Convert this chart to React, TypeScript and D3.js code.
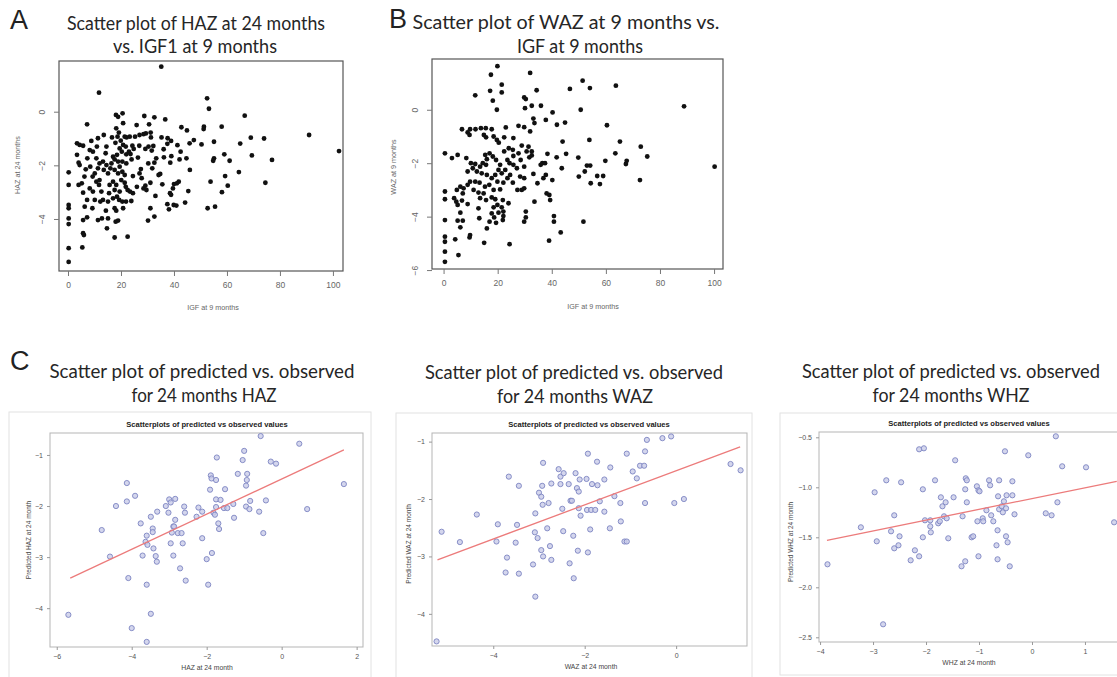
import React, { useEffect, useRef } from "react";
import * as d3 from "d3";

type Pt = [number, number];

// Panel A: IGF at 9 months (x) vs HAZ at 24 months (y)
const hazVsIgf: Pt[] = [
  [35.2, 1.68], [11.7, 0.71], [52.5, 0.5], [53.2, 0.11], [66.7, -0.15], [91, -0.87], [102.3, -1.47],
  [77, -1.8], [74.5, -2.65], [74, -1.0], [69, -0.97], [69.4, -1.63], [65, -1.19], [64.5, -2.25],
  [61, -1.83], [60.3, -2.76], [59.3, -2.4], [59, -1.59], [58.1, -3.0], [58, -0.56], [55.1, -1.12],
  [55.1, -1.74], [54.8, -1.83], [53.8, -2.61], [55.5, -3.54], [52.7, -3.6], [51.3, -0.56], [51.2, -0.65],
  [50.4, -1.22], [47.5, -1.06], [45.4, -2.96], [46, -2.17], [45.9, -1.18], [44.9, -0.7], [42.8, -0.58],
  [44.7, -1.74], [44.2, -3.39], [42.5, -1.49], [42.1, -1.78], [41.3, -1.25], [41.8, -2.61], [41.1, -2.67],
  [40, -2.7], [39.6, -2.86], [39.9, -3.48], [40.9, -3.5], [38.1, -3.64], [37.5, -3.45], [38.9, -3.1],
  [38.5, -3.04], [38.6, -1.9], [39, -1.66], [37.6, -0.99], [37.5, -1.2], [38.9, -1.09], [36.7, -0.29],
  [35.3, -0.96], [36.1, -1.4], [36.2, -1.7], [35.6, -2.71], [34.8, -2.32], [34.2, -2.36], [32.6, -0.21],
  [31.3, -0.96], [31.2, -0.78], [30.6, -0.47], [28.8, -0.16], [29.4, -0.81], [28.5, -0.84], [27, -0.87],
  [26.9, -1.27], [29.2, -1.39], [30.4, -1.3], [31.6, -1.45], [32.2, -1.28], [33.3, -1.74], [32.6, -1.9],
  [30.3, -1.93], [31.8, -2.11], [31.1, -2.65], [29.2, -2.76], [28.5, -2.86], [29.6, -2.92], [31.1, -3.6],
  [32.6, -3.91], [30.2, -4.06], [33, -3.14], [27.8, -2.48], [27.5, -2.14], [26.4, -1.71], [25.9, -0.5],
  [25.3, -0.93], [24.8, -1.39], [24.3, -1.27], [23.6, -1.58], [24, -1.78], [23, -1.49], [23.4, -2.98],
  [23.9, -3.33], [24.5, -2.4], [22.5, -2.92], [22.5, -4.66], [21.9, -3.35], [21.4, -2.65], [20.6, -0.06],
  [18.1, -0.12], [18.9, -0.19], [20.8, -0.43], [18.2, -0.62], [19.2, -0.78], [18.7, -0.93], [21.4, -0.93],
  [22.1, -0.96], [23.3, -0.93], [19.9, -1.08], [17.9, -1.16], [20.8, -1.24], [21.8, -1.3], [19.5, -1.37],
  [20.3, -1.49], [22, -1.59], [18.5, -1.61], [17, -1.68], [17.6, -1.78], [16.4, -1.93], [18.9, -1.86],
  [20.5, -1.86], [22, -1.93], [19.5, -2.05], [17.6, -2.17], [16, -2.11], [14.5, -1.99], [13.5, -2.17],
  [15.1, -2.3], [18.9, -2.3], [20.5, -2.24], [21.4, -2.36], [20.1, -2.55], [21.8, -2.8], [18.2, -2.73],
  [17, -2.61], [15.7, -2.73], [17.6, -2.92], [19.5, -2.98], [18.5, -3.17], [17, -3.23], [19.3, -3.29],
  [20.5, -3.35], [17.6, -3.6], [18.2, -3.69], [15.1, -3.35], [14.3, -3.69], [13.2, -3.29], [12.2, -3.35],
  [15.1, -3.98], [14.7, -4.35], [18, -4.1], [18.9, -4.06], [17.6, -4.69], [12.8, -3.98], [11.3, -4.04],
  [12.6, -2.98], [11.7, -2.73], [10.7, -2.61], [10.1, -2.3], [11.3, -2.11], [11.9, -1.93], [13.2, -1.86],
  [10.7, -1.74], [9.4, -1.49], [10.9, -1.3], [11.3, -0.99], [13.5, -0.87], [14.5, -1.3], [14.2, -1.55],
  [7.2, -0.47], [8.8, -1.09], [8.2, -1.43], [7.3, -1.74], [8.4, -2.05], [9.3, -2.42], [8.2, -2.86],
  [9.4, -2.98], [10.1, -3.29], [9.2, -3.6], [7.2, -3.29], [6.3, -3.54], [5.7, -3.02], [5.2, -2.67],
  [6.2, -2.42], [6.7, -2.15], [4.4, -1.99], [4, -1.9], [3.4, -1.61], [4.4, -1.24], [3.4, -1.18],
  [5.7, -1.27], [4, -2.73], [5.7, -4.04], [7.2, -3.94], [5.7, -4.53], [6, -4.6], [5.4, -5.06],
  [0.25, -2.26], [0.25, -2.73], [0.25, -3.48], [0.25, -3.6], [0.25, -3.98], [0.25, -4.19], [0.25, -5.09],
  [0.25, -5.6], [16.6, -0.96], [11.9, -2.55], [15.5, -3.04], [24.5, -3.04], [26, -2.8], [27, -2.3],
  [20.8, -3.6],
];

// Panel B: IGF at 9 months (x) vs WAZ at 9 months (y)
const wazVsIgf: Pt[] = [
  [19.9, 1.63], [17.5, 1.31], [32, 1.38], [51.4, 1.09], [63.7, 0.9], [54.1, 0.81], [46.7, 0.78],
  [34.4, 0.73], [21.5, 0.94], [21.5, 0.65], [17.2, 0.71], [11.7, 0.54], [18.2, 0.34], [29.8, 0.46],
  [30.4, 0.4], [32.6, 0.15], [36, 0.15], [88.9, 0.13], [30.1, 0.06], [40.3, -0.1], [50.7, 0],
  [19.7, 0], [33.2, -0.33], [33.6, -0.5], [37.8, -0.38], [41.9, -0.56], [44.9, -0.48], [60.4, -0.58],
  [6.8, -0.73], [9.8, -0.73], [11.8, -0.73], [13.8, -0.69], [15.6, -0.69], [17.8, -0.73], [23, -0.66],
  [27.7, -0.6], [29.8, -0.65], [32, -0.81], [8.9, -0.85], [9.6, -0.94], [14.9, -0.94], [15.7, -1.03],
  [18.5, -1.0], [22.4, -1.03], [25.8, -1.06], [19.7, -1.13], [20.4, -1.23], [28.9, -1.34], [31.4, -1.38],
  [44, -1.19], [53.9, -1.13], [65.2, -1.19], [72.9, -1.38], [75.3, -1.75], [63.5, -1.63], [59.8, -1.91],
  [67.7, -1.91], [67.4, -2.03], [100.2, -2.13], [53, -2.09], [54.2, -2.09], [49.8, -1.79], [52.2, -2.31],
  [50, -2.5], [56.8, -2.48], [59, -2.48], [57.8, -2.78], [54.4, -2.75], [72.6, -2.63], [45.3, -1.65],
  [41.8, -1.78], [43.7, -2.19], [40.2, -2.63], [38.4, -1.65], [36.5, -2.0], [37.5, -2.0], [35.9, -2.06],
  [37.8, -2.44], [36.9, -2.56], [34.7, -2.75], [33.2, -2.4], [29.8, -2.13], [28.5, -1.88], [32.6, -1.56],
  [32.6, -1.71], [30.7, -1.56], [31.7, -1.78], [27.7, -1.63], [25.6, -1.5], [25.8, -1.73], [24.1, -1.44],
  [22.4, -1.56], [23.6, -1.88], [24.4, -2.0], [25.8, -2.06], [27.1, -2.19], [28.3, -2.5], [29.8, -2.56],
  [29.8, -2.94], [28.9, -3.0], [27.3, -3.0], [25.6, -2.73], [24.6, -2.44], [23.6, -2.56], [22.8, -2.25],
  [21.5, -2.38], [20.3, -2.25], [20.9, -2.06], [19.4, -1.88], [18.2, -1.75], [17, -1.63], [15.4, -1.69],
  [16, -1.85], [14.5, -2.0], [15.7, -2.06], [13.5, -2.13], [11.7, -2.03], [10.1, -2.0], [10.8, -2.19],
  [12.3, -2.31], [14.1, -2.38], [16, -2.44], [17.8, -2.56], [19.1, -2.44], [19.9, -2.69], [22.1, -2.73],
  [20.9, -2.98], [18.5, -3.0], [16.9, -2.81], [15.3, -2.88], [13.3, -2.73], [11.7, -2.69], [9.8, -2.69],
  [8.9, -2.81], [7.4, -2.94], [6.2, -2.88], [7.1, -3.13], [4.9, -3.0], [11.1, -3.0], [12.9, -3.1],
  [14.8, -3.13], [13.5, -3.31], [15.7, -3.38], [17.8, -3.28], [19.1, -3.35], [21.9, -3.38], [24, -3.5],
  [19.9, -3.56], [18.5, -3.65], [21.5, -3.65], [22.1, -3.81], [20.3, -3.85], [17.8, -3.88], [18.7, -4.03],
  [22.1, -3.98], [21.9, -4.13], [19.4, -4.23], [17, -4.19], [16, -4.44], [12.9, -3.69], [13.2, -4.06],
  [8.9, -3.53], [6.8, -3.4], [4.7, -3.44], [3.9, -3.31], [5.2, -3.56], [6.2, -3.85], [5.2, -4.15],
  [7.1, -4.15], [6.2, -4.4], [9.8, -4.69], [9.6, -4.78], [15, -4.98], [4.3, -4.85], [5.5, -5.44],
  [24.4, -5.03], [30.4, -3.81], [30.4, -4.03], [29.8, -4.19], [33.6, -3.44], [38.1, -3.13], [39.1, -3.19],
  [39.4, -3.38], [40.8, -3.98], [40.8, -4.19], [43.3, -4.59], [39, -4.9], [51.7, -4.19], [0.5, -1.63],
  [0.5, -3.06], [0.5, -3.35], [0.5, -4.13], [0.5, -4.75], [0.5, -4.94], [0.5, -5.31], [0.5, -5.69],
  [3.1, -1.81], [5.2, -1.69], [8.4, -1.81], [8.9, -2.31],
];

const igfTicks = [0, 20, 40, 60, 80, 100];
const hazTicksA = [-4, -2, 0];
const wazTicksB = [-6, -4, -2, 0];

// Panel C: observed (x) vs predicted (y) at 24 months
const hazObsPred: Pt[] = [
  [-5.69, -4.13], [-4.8, -2.47], [-4.58, -2.99], [-4.42, -2.0], [-4.13, -1.55], [-4.13, -1.91],
  [-3.91, -1.8], [-4.09, -3.41], [-4.0, -4.39], [-3.6, -4.66], [-3.6, -3.54], [-3.49, -4.11],
  [-3.76, -2.34], [-3.71, -2.97], [-3.63, -2.7], [-3.58, -2.76], [-3.6, -2.58], [-3.49, -2.21],
  [-3.44, -2.44], [-3.44, -2.51], [-3.42, -2.83], [-3.36, -2.98], [-3.33, -3.09], [-3.32, -2.11],
  [-3.09, -2.0], [-3.02, -2.13], [-3.0, -1.87], [-2.96, -1.93], [-2.89, -2.4], [-2.96, -2.73],
  [-2.93, -2.52], [-2.84, -1.86], [-2.84, -2.27], [-2.87, -2.4], [-2.89, -2.97], [-2.77, -2.53],
  [-2.67, -2.53], [-2.64, -2.73], [-2.71, -3.22], [-2.6, -2.01], [-2.58, -2.13], [-2.56, -3.46],
  [-2.27, -2.21], [-2.22, -2.03], [-2.12, -2.11], [-2.12, -2.63], [-2.0, -3.04], [-1.96, -3.54],
  [-1.91, -1.68], [-1.89, -1.4], [-1.87, -1.46], [-1.82, -2.13], [-1.86, -2.92], [-1.78, -2.17],
  [-1.75, -1.49], [-1.73, -1.05], [-1.75, -1.87], [-1.75, -2.02], [-1.69, -2.34], [-1.67, -2.45],
  [-1.63, -1.88], [-1.54, -2.04], [-1.51, -1.67], [-1.45, -2.04], [-1.29, -1.96], [-1.27, -2.23],
  [-1.17, -1.37], [-1.04, -1.1], [-1.0, -0.92], [-0.95, -1.6], [-0.93, -1.49], [-0.92, -1.37],
  [-0.95, -2.01], [-0.86, -2.06], [-0.84, -1.9], [-0.6, -2.11], [-0.56, -0.63], [-0.49, -2.53],
  [-0.42, -1.89], [-0.29, -1.13], [-0.15, -1.17], [0.47, -0.78], [0.68, -2.06], [1.66, -1.57],
];
const hazFit: Pt[] = [[-5.64, -3.41], [1.66, -0.9]];

const wazObsPred: Pt[] = [
  [-5.24, -4.48], [-5.13, -2.57], [-4.73, -2.75], [-4.36, -2.27], [-3.9, -2.44], [-3.93, -2.74],
  [-3.66, -1.61], [-3.7, -3.02], [-3.73, -3.28], [-3.48, -2.45], [-3.51, -2.76], [-3.44, -1.77],
  [-3.44, -3.3], [-3.13, -3.14], [-3.08, -2.25], [-3.09, -2.58], [-3.03, -2.68], [-3.08, -3.7],
  [-3.0, -1.89], [-2.95, -1.96], [-2.93, -1.77], [-2.91, -1.37], [-2.92, -2.1], [-2.95, -2.89],
  [-2.91, -3.0], [-2.79, -2.07], [-2.82, -2.51], [-2.76, -2.82], [-2.73, -3.06], [-2.73, -1.73],
  [-2.57, -1.48], [-2.53, -1.61], [-2.53, -1.74], [-2.49, -2.17], [-2.47, -2.56], [-2.46, -1.55],
  [-2.35, -1.74], [-2.31, -2.03], [-2.28, -2.03], [-2.33, -3.12], [-2.25, -2.64], [-2.24, -3.38],
  [-2.2, -1.55], [-2.17, -1.81], [-2.13, -1.87], [-2.11, -1.66], [-2.13, -2.16], [-2.09, -2.29],
  [-2.15, -2.9], [-1.96, -1.65], [-1.93, -1.21], [-1.95, -2.19], [-1.86, -2.19], [-1.77, -2.19],
  [-1.93, -2.93], [-1.88, -2.53], [-1.84, -1.74], [-1.73, -1.35], [-1.72, -1.76], [-1.67, -2.04],
  [-1.57, -1.66], [-1.57, -2.22], [-1.44, -1.45], [-1.45, -2.51], [-1.35, -1.95], [-1.22, -2.07],
  [-1.21, -2.39], [-1.13, -2.74], [-1.08, -2.74], [-1.08, -1.21], [-0.95, -1.52], [-0.86, -1.64],
  [-0.79, -1.42], [-0.7, -1.42], [-0.68, -1.17], [-0.68, -2.07], [-0.64, -0.97], [-0.3, -0.94],
  [-0.11, -0.91], [-0.04, -2.07], [0.17, -2.0], [1.19, -1.39], [1.41, -1.5],
];
const wazFit: Pt[] = [[-5.22, -3.06], [1.4, -1.09]];

const whzObsPred: Pt[] = [
  [-3.86, -1.77], [-3.23, -1.4], [-2.97, -1.05], [-2.93, -1.54], [-2.75, -0.93], [-2.81, -2.37],
  [-2.66, -1.44], [-2.6, -1.28], [-2.6, -1.61], [-2.52, -1.58], [-2.5, -1.49], [-2.47, -0.95],
  [-2.29, -1.73], [-2.21, -1.63], [-2.13, -1.69], [-2.13, -0.62], [-2.04, -0.61], [-2.06, -1.02],
  [-2.06, -1.5], [-2.02, -1.33], [-1.92, -1.33], [-1.92, -1.39], [-1.91, -1.45], [-1.83, -0.93],
  [-1.77, -1.36], [-1.74, -1.34], [-1.72, -1.1], [-1.69, -1.19], [-1.63, -1.15], [-1.66, -1.29],
  [-1.61, -1.31], [-1.58, -1.51], [-1.48, -1.1], [-1.45, -0.73], [-1.31, -1.29], [-1.33, -1.79],
  [-1.26, -1.74], [-1.26, -1.02], [-1.25, -0.91], [-1.23, -0.93], [-1.23, -1.15], [-1.14, -1.5],
  [-1.11, -1.49], [-1.04, -0.99], [-1.01, -1.03], [-0.99, -1.04], [-1.03, -1.34], [-1.01, -1.69],
  [-0.93, -1.31], [-0.92, -1.34], [-0.86, -1.23], [-0.81, -0.93], [-0.79, -0.98], [-0.77, -1.28],
  [-0.73, -1.34], [-0.67, -1.58], [-0.65, -1.43], [-0.65, -1.72], [-0.64, -1.09], [-0.62, -0.93],
  [-0.62, -1.22], [-0.57, -1.19], [-0.55, -1.25], [-0.53, -1.14], [-0.51, -0.64], [-0.49, -1.21],
  [-0.49, -1.49], [-0.48, -1.08], [-0.46, -1.55], [-0.42, -1.79], [-0.37, -0.94], [-0.37, -1.08],
  [-0.33, -1.27], [-0.07, -0.68], [0.26, -1.26], [0.37, -1.28], [0.45, -0.49], [0.48, -1.15],
  [0.57, -0.79], [1.02, -0.8], [1.55, -1.35],
];
const whzFit: Pt[] = [[-3.87, -1.53], [1.6, -0.94]];

const hazTicksC = [-6, -4, -2, 0, 2];
const wazTicksC = [-4, -2, 0];
const whzTicksC = [-4, -3, -2, -1, 0, 1];
const predTicksHaz = [-1, -2, -3, -4];
const predTicksWaz = [-1, -2, -3, -4];
const predTicksWhz = [-0.5, -1, -1.5, -2, -2.5];

const TITLE_FONT = "Lato, 'Open Sans', sans-serif";
const SMALL_FONT = "'Liberation Sans', Arial, sans-serif";

const App = () => {
  const svgRef = useRef(null);

  useEffect(() => {
    if (!svgRef.current) return;
    const width = 1117;
    const height = 677;

    const svg = d3.select(svgRef.current);
    svg.selectAll("*").remove();
    svg.attr("width", width).attr("height", height).style("background", "#fff");

    // two-line heading above a panel
    const heading = (lines: { text: string; x: number; y: number; w: number }[]) => {
      lines.forEach((l) => {
        svg
          .append("text")
          .attr("x", l.x)
          .attr("y", l.y)
          .attr("text-anchor", "middle")
          .attr("textLength", l.w)
          .attr("lengthAdjust", "spacingAndGlyphs")
          .style("font-family", TITLE_FONT)
          .style("font-size", "18.5px")
          .style("fill", "#262626")
          .text(l.text);
      });
    };

    const letter = (t: string, x: number, y: number) => {
      svg
        .append("text")
        .attr("x", x)
        .attr("y", y)
        .style("font-family", SMALL_FONT)
        .style("font-size", "27px")
        .style("fill", "#222")
        .text(t);
    };

    // R base-graphics style scatter
    const drawRPanel = (cfg: any) => {
      const x = d3.scaleLinear().domain(cfg.xDomain).range([cfg.left, cfg.right]);
      const y = d3.scaleLinear().domain(cfg.yDomain).range([cfg.bottom, cfg.top]);
      const g = svg.append("g");

      g.selectAll("circle")
        .data(cfg.points)
        .enter()
        .append("circle")
        .attr("cx", (d: Pt) => x(d[0]))
        .attr("cy", (d: Pt) => y(d[1]))
        .attr("r", 2.4)
        .attr("fill", "#111");

      g.append("rect")
        .attr("x", cfg.left)
        .attr("y", cfg.top)
        .attr("width", cfg.right - cfg.left)
        .attr("height", cfg.bottom - cfg.top)
        .attr("fill", "none")
        .attr("stroke", "#555")
        .attr("stroke-width", 1.2);

      const xa = g
        .append("g")
        .attr("transform", `translate(0,${cfg.bottom})`)
        .call(d3.axisBottom(x).tickValues(cfg.xTicks).tickSize(5).tickPadding(6).tickFormat(d3.format("d")));
      xa.select(".domain").remove();
      xa.selectAll("line").attr("stroke", "#777");
      xa.selectAll("text").style("font-family", SMALL_FONT).style("font-size", "8.5px").style("fill", "#666");

      const ya = g
        .append("g")
        .attr("transform", `translate(${cfg.left},0)`)
        .call(d3.axisLeft(y).tickValues(cfg.yTicks).tickSize(5).tickFormat(d3.format("d")));
      ya.select(".domain").remove();
      ya.selectAll("line").attr("stroke", "#777");
      ya.selectAll("text")
        .attr("x", null)
        .attr("dy", null)
        .attr("text-anchor", "middle")
        .attr("transform", "translate(-14,0) rotate(-90)")
        .style("font-family", SMALL_FONT)
        .style("font-size", "8.5px")
        .style("fill", "#666");

      g.append("text")
        .attr("x", cfg.xLabelX)
        .attr("y", cfg.xLabelY)
        .attr("text-anchor", "middle")
        .style("font-family", SMALL_FONT)
        .style("font-size", "7.2px")
        .style("fill", "#666")
        .text(cfg.xLabel);

      g.append("text")
        .attr("transform", `translate(${cfg.yLabelX},${cfg.yLabelY}) rotate(-90)`)
        .attr("text-anchor", "middle")
        .style("font-family", SMALL_FONT)
        .style("font-size", "7.2px")
        .style("fill", "#666")
        .text(cfg.yLabel);
    };

    // SAS ODS style predicted vs observed scatter
    const drawSasPanel = (cfg: any) => {
      const x = d3.scaleLinear().domain(cfg.xDomain).range([cfg.left, cfg.right]);
      const y = d3.scaleLinear().domain(cfg.yDomain).range([cfg.bottom, cfg.top]);
      const g = svg.append("g");

      g.append("rect")
        .attr("x", cfg.frame[0])
        .attr("y", cfg.frame[1])
        .attr("width", cfg.frame[2] - cfg.frame[0])
        .attr("height", cfg.frame[3] - cfg.frame[1])
        .attr("fill", "#fff")
        .attr("stroke", "#e2e2e2")
        .attr("stroke-width", 1);

      g.append("text")
        .attr("x", cfg.titleX)
        .attr("y", cfg.titleY)
        .attr("text-anchor", "middle")
        .style("font-family", SMALL_FONT)
        .style("font-size", "7.6px")
        .style("font-weight", "bold")
        .style("fill", "#222")
        .text("Scatterplots of predicted vs observed values");

      g.append("rect")
        .attr("x", cfg.left)
        .attr("y", cfg.top)
        .attr("width", cfg.right - cfg.left)
        .attr("height", cfg.bottom - cfg.top)
        .attr("fill", "none")
        .attr("stroke", "#b5b5b5")
        .attr("stroke-width", 1);

      g.selectAll("circle")
        .data(cfg.points)
        .enter()
        .append("circle")
        .attr("cx", (d: Pt) => x(d[0]))
        .attr("cy", (d: Pt) => y(d[1]))
        .attr("r", 2.6)
        .attr("fill", "#c9cce8")
        .attr("fill-opacity", 0.8)
        .attr("stroke", "#7d84c2")
        .attr("stroke-width", 0.9);

      g.append("path")
        .datum(cfg.fit)
        .attr("fill", "none")
        .attr("stroke", "#ec7b7b")
        .attr("stroke-width", 1.3)
        .attr("d", d3.line<Pt>().x((d) => x(d[0])).y((d) => y(d[1])));

      const xa = g
        .append("g")
        .attr("transform", `translate(0,${cfg.bottom})`)
        .call(d3.axisBottom(x).tickValues(cfg.xTicks).tickSize(3).tickPadding(4).tickFormat(d3.format("d")));
      xa.select(".domain").remove();
      xa.selectAll("line").attr("stroke", "#999");
      xa.selectAll("text").style("font-family", SMALL_FONT).style("font-size", "7px").style("fill", "#555");

      const ya = g
        .append("g")
        .attr("transform", `translate(${cfg.left},0)`)
        .call(d3.axisLeft(y).tickValues(cfg.yTicks).tickSize(3).tickPadding(4).tickFormat(d3.format(cfg.yFormat)));
      ya.select(".domain").remove();
      ya.selectAll("line").attr("stroke", "#999");
      ya.selectAll("text").style("font-family", SMALL_FONT).style("font-size", "7px").style("fill", "#555");

      g.append("text")
        .attr("x", cfg.xLabelX)
        .attr("y", cfg.xLabelY)
        .attr("text-anchor", "middle")
        .style("font-family", SMALL_FONT)
        .style("font-size", "6.8px")
        .style("fill", "#444")
        .text(cfg.xLabel);

      g.append("text")
        .attr("transform", `translate(${cfg.yLabelX},${cfg.yLabelY}) rotate(-90)`)
        .attr("text-anchor", "middle")
        .style("font-family", SMALL_FONT)
        .style("font-size", "6.5px")
        .style("fill", "#444")
        .text(cfg.yLabel);
    };

    // Panel A
    letter("A", 10, 29);
    heading([
      { text: "Scatter plot of HAZ at 24 months", x: 196, y: 30, w: 258 },
      { text: "vs. IGF1 at 9 months", x: 195, y: 53, w: 164 },
    ]);
    drawRPanel({
      points: hazVsIgf,
      xDomain: [-3.4, 103.8],
      yDomain: [-5.94, 1.89],
      left: 59,
      right: 343,
      top: 61,
      bottom: 271,
      xTicks: igfTicks,
      yTicks: hazTicksA,
      xLabel: "IGF at 9 months",
      xLabelX: 213,
      xLabelY: 310,
      yLabel: "HAZ at 24 months",
      yLabelX: 20,
      yLabelY: 165,
    });

    // Panel B
    letter("B", 389, 28);
    heading([
      { text: "Scatter plot of WAZ at 9 months vs.", x: 566, y: 29, w: 307 },
      { text: "IGF at 9 months", x: 580, y: 53, w: 126 },
    ]);
    drawRPanel({
      points: wazVsIgf,
      xDomain: [-4.28, 103.3],
      yDomain: [-5.96, 1.9],
      left: 432,
      right: 723,
      top: 59,
      bottom: 269,
      xTicks: igfTicks,
      yTicks: wazTicksB,
      xLabel: "IGF at 9 months",
      xLabelX: 593,
      xLabelY: 309,
      yLabel: "WAZ at 9 months",
      yLabelX: 396,
      yLabelY: 167,
    });

    // Panel C
    letter("C", 10, 370);
    heading([
      { text: "Scatter plot of predicted vs. observed", x: 202, y: 378, w: 305 },
      { text: "for 24 months HAZ", x: 204, y: 402, w: 145 },
      { text: "Scatter plot of predicted vs. observed", x: 574, y: 379, w: 298 },
      { text: "for 24 months WAZ", x: 575, y: 403, w: 156 },
      { text: "Scatter plot of predicted vs. observed", x: 951, y: 378, w: 298 },
      { text: "for 24 months WHZ", x: 951, y: 402, w: 157 },
    ]);

    drawSasPanel({
      points: hazObsPred,
      fit: hazFit,
      frame: [9, 412, 371, 690],
      xDomain: [-6.18, 2.17],
      yDomain: [-4.76, -0.57],
      left: 50,
      right: 363,
      top: 433,
      bottom: 647,
      xTicks: hazTicksC,
      yTicks: predTicksHaz,
      yFormat: "d",
      titleX: 207,
      titleY: 427,
      xLabel: "HAZ at 24 month",
      xLabelX: 207,
      xLabelY: 670,
      yLabel: "Predicted HAZ at 24 month",
      yLabelX: 31,
      yLabelY: 540,
    });

    drawSasPanel({
      points: wazObsPred,
      fit: wazFit,
      frame: [396, 413, 752, 690],
      xDomain: [-5.34, 1.55],
      yDomain: [-4.56, -0.85],
      left: 432,
      right: 747,
      top: 433,
      bottom: 646,
      xTicks: wazTicksC,
      yTicks: predTicksWaz,
      yFormat: "d",
      titleX: 589,
      titleY: 427,
      xLabel: "WAZ at 24 month",
      xLabelX: 591,
      xLabelY: 669,
      yLabel: "Predicted WAZ at 24 month",
      yLabelX: 411,
      yLabelY: 544,
    });

    drawSasPanel({
      points: whzObsPred,
      fit: whzFit,
      frame: [780, 413, 1140, 675],
      xDomain: [-4.02, 1.85],
      yDomain: [-2.547, -0.447],
      left: 819,
      right: 1130,
      top: 432,
      bottom: 642,
      xTicks: whzTicksC,
      yTicks: predTicksWhz,
      yFormat: ".1f",
      titleX: 969,
      titleY: 426,
      xLabel: "WHZ at 24 month",
      xLabelX: 969,
      xLabelY: 665,
      yLabel: "Predicted WHZ at 24 month",
      yLabelX: 793,
      yLabelY: 542,
    });
  }, []);

  return <svg ref={svgRef} style={{ position: "absolute", left: 0, top: 0, display: "block" }}></svg>;
};

export default App;
